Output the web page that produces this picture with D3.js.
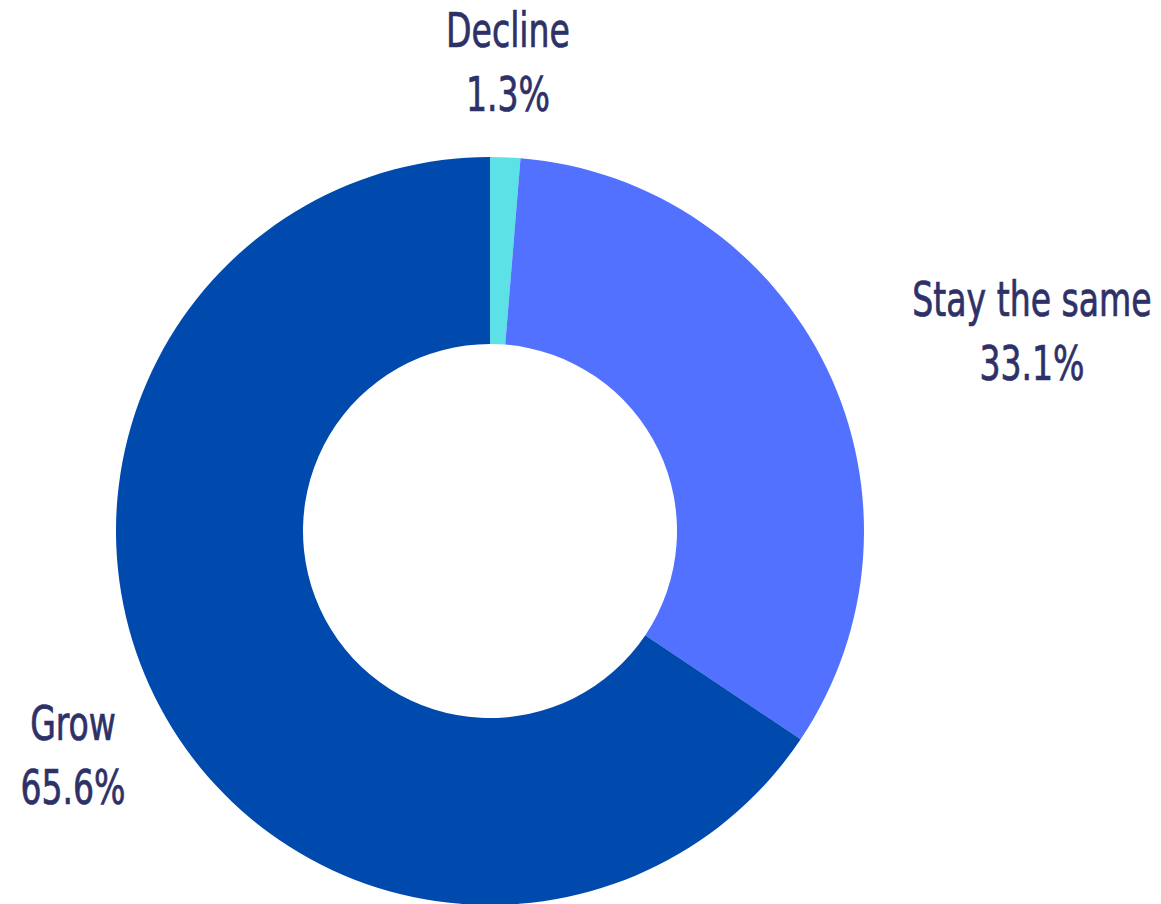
<!DOCTYPE html>
<html>
<head>
<meta charset="utf-8">
<script src="https://cdn.jsdelivr.net/npm/d3@7"></script>
<style>
  body { margin: 0; background: #fff; }
  .slice-label { font-family: "Liberation Sans Narrow", "DejaVu Sans Condensed", sans-serif; fill: #2e3168; stroke: #2e3168; stroke-width: 0.7px; }
</style>
</head>
<body>
<div class="chart-container"></div>
<script>
// donut chart - outlook survey
var categories = ["Decline", "Stay the same", "Grow"];
var values = [1.3, 33.1, 65.6];
var colors = ["#5ce1e6", "#5271ff", "#004aad"];
var valueLabels = ["1.3%", "33.1%", "65.6%"];

var width = 1161,
    height = 904,
    cx = 490,
    cy = 531,
    outerRadius = 374,
    innerRadius = 187;

var svg = d3.select(".chart-container").append("svg")
    .attr("width", width)
    .attr("height", height);

var pie = d3.pie().sort(null).value(function(d) { return d; });
var arc = d3.arc().innerRadius(innerRadius).outerRadius(outerRadius);

var g = svg.append("g")
    .attr("transform", "translate(" + cx + "," + cy + ")");

var arcs = pie(values);

g.selectAll("path")
  .data(arcs)
  .enter()
  .append("path")
  .attr("d", arc)
  .attr("fill", function(d, i) { return colors[i]; });

// label anchors (outside the ring)
var labelPos = [
  { x: 508, y: 47 },
  { x: 1032, y: 316 },
  { x: 73, y: 740 }
];

var labels = svg.selectAll(".slice-label")
  .data(categories)
  .enter()
  .append("text")
  .attr("class", "slice-label")
  .attr("text-anchor", "middle")
  .attr("font-size", "46px")
  .attr("transform", function(d, i) {
    return "translate(" + labelPos[i].x + "," + labelPos[i].y + ") scale(0.8,1.04)";
  });

labels.append("tspan")
  .attr("x", 0)
  .attr("y", 0)
  .text(function(d) { return d; });

labels.append("tspan")
  .attr("x", 0)
  .attr("y", 62)
  .text(function(d, i) { return valueLabels[i]; });
</script>
</body>
</html>
